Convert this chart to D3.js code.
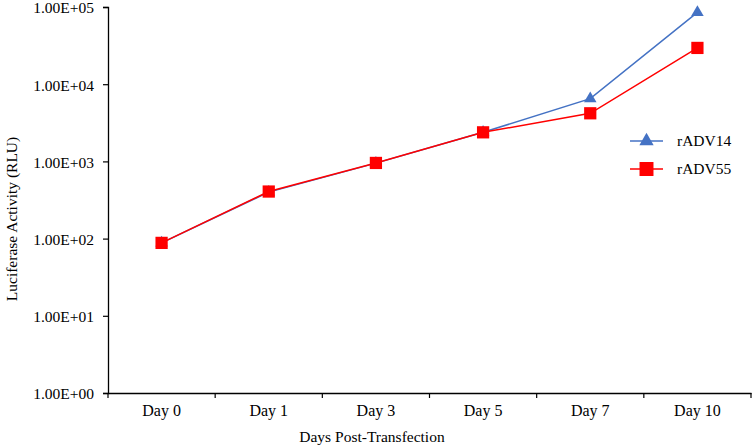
<!DOCTYPE html>
<html>
<head>
<meta charset="utf-8">
<script src="https://cdn.jsdelivr.net/npm/d3@7"></script>
<style>
  body { margin: 0; background: #fff; }
  svg { display: block; font-family: "Liberation Serif", "Times New Roman", serif; }
</style>
</head>
<body>
<svg id="chart" width="753" height="447"></svg>
<script>
const days = ["Day 0", "Day 1", "Day 3", "Day 5", "Day 7", "Day 10"];
const rADV14 = [88, 400, 950, 2380, 6500, 85000];
const rADV55 = [88, 407, 955, 2380, 4200, 29500];
const yTicks = [1, 10, 100, 1000, 10000, 100000];

(function drawLuciferaseChart() {
  const svg = d3.select("#chart");
  const width = 753, height = 447;
  const margin = { top: 7, right: 2, bottom: 54, left: 108 };

  const x = d3.scaleBand()
    .domain(days)
    .range([margin.left, width - margin.right]);

  const y = d3.scaleLog()
    .domain([1, 100000])
    .range([height - margin.bottom, margin.top]);

  const series = [
    { name: "rADV14", values: rADV14, color: "#4472C4", shape: d3.symbolTriangle, size: 68 },
    { name: "rADV55", values: rADV55, color: "#FF0000", shape: d3.symbolSquare, size: 150 }
  ];

  // axes
  const xAxis = svg.append("g")
    .attr("transform", `translate(0,${height - margin.bottom})`)
    .call(d3.axisBottom(x).tickSize(0).tickPadding(12));
  xAxis.selectAll("text").attr("font-size", "16px").attr("fill", "#000")
    .attr("font-family", "Liberation Serif");
  xAxis.select(".domain").attr("stroke", "#000").attr("stroke-width", 1.3);
  // tick marks at category edges
  const edges = days.map(d => x(d)).concat([x.range()[1]]);
  xAxis.selectAll(".edge")
    .data(edges)
    .enter()
    .append("line")
    .attr("class", "edge")
    .attr("x1", d => d).attr("x2", d => d)
    .attr("y1", 0).attr("y2", 5)
    .attr("stroke", "#000").attr("stroke-width", 1.2);

  const yAxis = svg.append("g")
    .attr("transform", `translate(${margin.left},0)`)
    .call(d3.axisLeft(y).tickValues(yTicks).tickSize(5).tickPadding(9)
      .tickFormat(d => d.toExponential(2).toUpperCase().replace(/E([+-])(\d)$/, "E$10$2")));
  yAxis.selectAll("text").attr("font-size", "15.5px").attr("fill", "#000")
    .attr("font-family", "Liberation Serif").attr("dy", "0.38em");
  yAxis.select(".domain").attr("stroke", "#000").attr("stroke-width", 1.3);
  yAxis.selectAll(".tick line").attr("stroke", "#000").attr("stroke-width", 1.2);

  // axis titles
  svg.append("text")
    .attr("x", 372)
    .attr("y", 442)
    .attr("text-anchor", "middle")
    .attr("font-size", "15.5px")
    .text("Days Post-Transfection");

  svg.append("text")
    .attr("transform", "rotate(-90)")
    .attr("x", -219)
    .attr("y", 17)
    .attr("text-anchor", "middle")
    .attr("font-size", "15.5px")
    .text("Luciferase Activity (RLU)");

  const line = d3.line()
    .x((d, i) => x(days[i]) + x.bandwidth() / 2)
    .y(d => y(d));

  series.forEach(s => {
    svg.append("path")
      .datum(s.values)
      .attr("d", line)
      .attr("fill", "none")
      .attr("stroke", s.color)
      .attr("stroke-width", 1.5);

    svg.selectAll(".pt-" + s.name)
      .data(s.values)
      .enter()
      .append("path")
      .attr("class", "pt-" + s.name)
      .attr("d", d3.symbol().type(s.shape).size(s.size))
      .attr("transform", (d, i) => `translate(${x(days[i]) + x.bandwidth() / 2},${y(d)})`)
      .attr("fill", s.color);
  });

  // legend
  const legend = svg.append("g")
    .attr("transform", "translate(630,141)");

  series.forEach((s, i) => {
    const item = legend.append("g")
      .attr("transform", `translate(0,${i * 28})`);

    item.append("line")
      .attr("x1", 0).attr("x2", 33)
      .attr("y1", 0).attr("y2", 0)
      .attr("stroke", s.color)
      .attr("stroke-width", 1.5);

    item.append("path")
      .attr("d", d3.symbol().type(s.shape).size(s.size * 1.3))
      .attr("transform", "translate(16.5,0)")
      .attr("fill", s.color);

    item.append("text")
      .attr("x", 47)
      .attr("y", 5)
      .attr("font-size", "15.5px")
      .text(s.name);
  });
})();
</script>
</body>
</html>
